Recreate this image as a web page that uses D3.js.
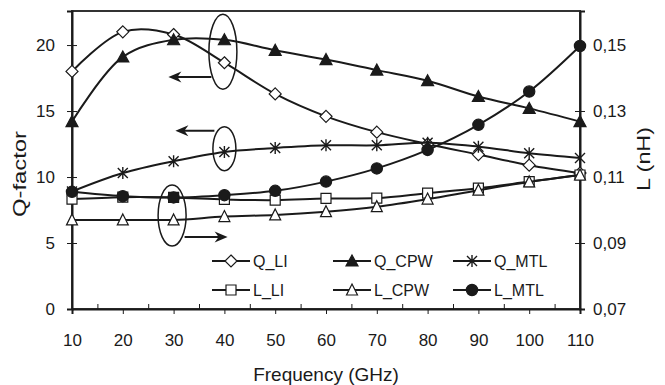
<!DOCTYPE html>
<html>
<head>
<meta charset="utf-8">
<script src="https://cdn.jsdelivr.net/npm/d3@7"></script>
<style>
    body {margin: 0; background: #fff;}
    svg {display: block; font-family: "Liberation Sans", Arial, sans-serif;}
</style>
</head>
<body>
<svg id="chart" width="665" height="385"></svg>
<script>
// data
const freq = [10, 20, 30, 40, 50, 60, 70, 80, 90, 100, 110];
const qLI  = [18.0, 21.0, 20.8, 18.66, 16.3, 14.6, 13.4, 12.5, 11.7, 10.9, 10.3];
const qCPW = [14.2, 19.1, 20.4, 20.4, 19.6, 18.9, 18.1, 17.3, 16.1, 15.2, 14.2];
const qMTL = [8.9, 10.3, 11.2, 11.9, 12.2, 12.4, 12.4, 12.6, 12.3, 11.8, 11.45];
const lLI  = [0.1033, 0.1039, 0.1038, 0.1032, 0.1030, 0.1035, 0.1036, 0.1051, 0.1066, 0.1086, 0.1106];
const lCPW = [0.0970, 0.0970, 0.0970, 0.0980, 0.0985, 0.0995, 0.1010, 0.1033, 0.1060, 0.1085, 0.1106];
const lMTL = [0.1055, 0.1042, 0.1038, 0.1045, 0.1058, 0.1086, 0.1126, 0.1182, 0.1258, 0.1359, 0.1497];

const xTicks = [10, 20, 30, 40, 50, 60, 70, 80, 90, 100, 110];
const xMinorTicks = [15, 25, 35, 45, 55, 65, 75, 85, 95, 105];
const qTicks = [0, 5, 10, 15, 20];
const lTicks = [0.07, 0.09, 0.11, 0.13, 0.15];

const series = [
    {name: "Q_LI",  values: qLI,  axis: "Q", marker: "diamond"},
    {name: "Q_CPW", values: qCPW, axis: "Q", marker: "triangleFill"},
    {name: "Q_MTL", values: qMTL, axis: "Q", marker: "star"},
    {name: "L_LI",  values: lLI,  axis: "L", marker: "square"},
    {name: "L_CPW", values: lCPW, axis: "L", marker: "triangle"},
    {name: "L_MTL", values: lMTL, axis: "L", marker: "circleFill"}
];

let svg = d3.select("#chart");

let plotLeft = 72, plotRight = 580, plotTop = 11, plotBottom = 309;

let x = d3.scaleLinear([10, 110], [plotLeft, plotRight]);
let yQ = d3.scaleLinear([0, 22.58], [plotBottom, plotTop]);
let yL = d3.scaleLinear([0.07, 0.1603], [plotBottom, plotTop]);

let ink = "#1a1a1a";

// frame
svg.append("rect")
    .attr("x", plotLeft).attr("y", plotTop)
    .attr("width", plotRight - plotLeft).attr("height", plotBottom - plotTop)
    .attr("fill", "none").attr("stroke", "#333").attr("stroke-width", 2);

// x axis
let xAxis = svg.append("g")
    .attr("transform", `translate(0,${plotBottom})`)
    .call(d3.axisBottom(x).tickValues(xTicks).tickSize(5).tickPadding(20).tickFormat(d3.format("d")));
xAxis.select(".domain").attr("stroke", ink).attr("stroke-width", 2);

let xMinor = svg.append("g")
    .attr("transform", `translate(0,${plotBottom})`)
    .call(d3.axisBottom(x).tickValues(xMinorTicks).tickSize(-5).tickFormat(""));
xMinor.select(".domain").remove();

// left axis
let qAxis = svg.append("g")
    .attr("transform", `translate(${plotLeft},0)`)
    .call(d3.axisLeft(yQ).tickValues(qTicks).tickSize(5).tickPadding(12).tickFormat(d3.format("d")));
qAxis.select(".domain").attr("stroke", ink).attr("stroke-width", 2);
qAxis.selectAll(".tick line").attr("x1", 5);

// right axis
let lAxis = svg.append("g")
    .attr("transform", `translate(${plotRight},0)`)
    .call(d3.axisRight(yL).tickValues(lTicks).tickSize(5).tickPadding(8)
        .tickFormat(d => d3.format(".2f")(d).replace(".", ",")));
lAxis.select(".domain").attr("stroke", ink).attr("stroke-width", 2);
lAxis.selectAll(".tick line").attr("x1", -5);

svg.selectAll(".tick text").attr("font-size", 17).attr("font-family", "Liberation Sans, Arial, sans-serif").attr("fill", ink);
svg.selectAll(".tick line").attr("stroke", ink).attr("stroke-width", 1);

// axis titles
svg.append("text")
    .attr("x", (plotLeft + plotRight) / 2).attr("y", 381)
    .attr("text-anchor", "middle").attr("font-size", 19).attr("fill", ink)
    .text("Frequency (GHz)");

svg.append("text")
    .attr("transform", "translate(25.5,174) rotate(-90)")
    .attr("text-anchor", "middle").attr("font-size", 18).attr("fill", ink)
    .attr("textLength", 86).attr("lengthAdjust", "spacingAndGlyphs")
    .text("Q-factor");

svg.append("text")
    .attr("transform", "translate(650,159) rotate(-90)")
    .attr("text-anchor", "middle").attr("font-size", 18).attr("fill", ink)
    .attr("textLength", 64).attr("lengthAdjust", "spacingAndGlyphs")
    .text("L (nH)");


function drawMarker(g, type, cx, cy)
{
    let m = g.append("path").attr("transform", `translate(${cx},${cy})`)
        .attr("stroke", ink).attr("stroke-width", 1.2);
    if (type === "diamond")
        m.attr("d", "M0,-6L6,0L0,6L-6,0Z").attr("fill", "#fff");
    else if (type === "triangleFill")
        m.attr("d", "M0,-6L6,5L-6,5Z").attr("fill", ink);
    else if (type === "triangle")
        m.attr("d", "M0,-6L5.5,5L-5.5,5Z").attr("fill", "#fff");
    else if (type === "square")
        m.attr("d", "M-5,-5H5V5H-5Z").attr("fill", "#fff");
    else if (type === "circleFill")
        m.attr("d", d3.symbol(d3.symbolCircle, 100)()).attr("fill", ink);
    else if (type === "star")
        m.attr("d", "M0,-6V6M-5,-5L5,5M-5,5L5,-5").attr("fill", "none").attr("stroke-width", 1.4);
}

// series
for (const s of series)
{
    let y = s.axis === "Q" ? yQ : yL;
    let line = d3.line()
        .x((d, i) => x(freq[i]))
        .y(d => y(d))
        .curve(d3.curveCatmullRom.alpha(0.5));

    let g = svg.append("g");
    g.append("path")
        .attr("d", line(s.values))
        .attr("fill", "none").attr("stroke", ink).attr("stroke-width", 2);

    s.values.forEach((v, i) => drawMarker(g, s.marker, x(freq[i]), y(v)));
}

// annotations: ellipses and arrows
let note = svg.append("g").attr("fill", "none").attr("stroke", ink).attr("stroke-width", 1.5);

note.append("ellipse").attr("cx", x(40) - 1.5).attr("cy", yQ(19.5)).attr("rx", 14).attr("ry", 37.5);
note.append("ellipse").attr("cx", x(40)).attr("cy", yQ(12.15)).attr("rx", 11.5).attr("ry", 22);
note.append("ellipse").attr("cx", x(30) - 1.5).attr("cy", yQ(7.08)).attr("rx", 14).attr("ry", 30.5);

function arrow(x1, x2, y)
{
    let dir = x2 > x1 ? 1 : -1;
    note.append("line")
        .attr("x1", x1).attr("y1", y).attr("x2", x2 - dir * 6).attr("y2", y)
        .attr("stroke-width", 2);
    note.append("path")
        .attr("d", `M${x2},${y}L${x2 - dir * 13},${y - 5.5}L${x2 - dir * 9},${y}L${x2 - dir * 13},${y + 5.5}Z`)
        .attr("fill", ink).attr("stroke", "none");
}

arrow(x(40) - 13, x(40) - 56, yQ(17.58));
arrow(x(40) - 10, x(40) - 49, yQ(13.5));
arrow(x(30) + 11, x(30) + 54, yQ(5.45));

// legend
let legend = svg.append("g").attr("font-size", 16).attr("fill", ink);
let legendCols = [212, 333, 453];
let legendRows = [261, 290];

series.forEach((s, i) =>
{
    let lx = legendCols[i % 3];
    let ly = legendRows[Math.floor(i / 3)];
    legend.append("line")
        .attr("x1", lx).attr("x2", lx + 38).attr("y1", ly).attr("y2", ly)
        .attr("stroke", ink).attr("stroke-width", 2);
    drawMarker(legend, s.marker, lx + 19, ly);
    legend.append("text")
        .attr("x", lx + 41).attr("y", ly + 6)
        .text(s.name);
});
</script>
</body>
</html>
